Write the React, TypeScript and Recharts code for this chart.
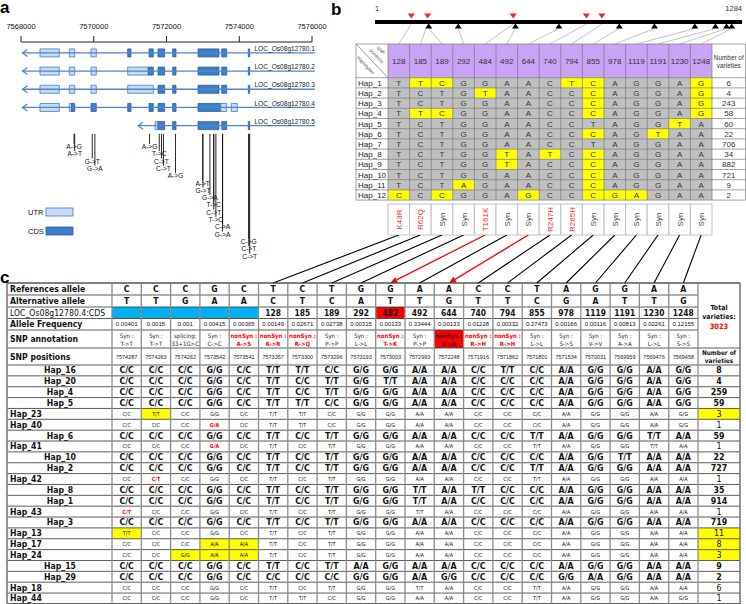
import React from 'react'
import { ComposedChart, XAxis, YAxis, ReferenceArea, ReferenceLine, ReferenceDot, Scatter } from 'recharts'

const SANS = '"Liberation Sans", Arial, Helvetica, sans-serif'
const NARROW = '"Liberation Sans Narrow", "DejaVu Sans Condensed", "Liberation Sans", Arial, sans-serif'
const INK = '#222'
const RED = '#ff0000'
const YELLOW = '#ffff00'

// ---------- panel a: gene models ----------
const GENE_TICKS = [7568000, 7570000, 7572000, 7574000, 7576000]
const TRANSCRIPTS = ['LOC_Os08g12780.1', 'LOC_Os08g12780.2', 'LOC_Os08g12780.3', 'LOC_Os08g12780.4', 'LOC_Os08g12780.5']
const TX_START = [7568040, 7568040, 7568040, 7568040, 7571220]
const TX_END = 7576080
// [transcript, start, end, kind]
const EXONS: [number, number, number, string][] = [
  [1, 7568522, 7569053, 'UTR'], [1, 7569328, 7569477, 'UTR'], [1, 7569924, 7570070, 'UTR'], [1, 7570933, 7571024, 'CDS'],
  [1, 7571519, 7571637, 'CDS'], [1, 7571766, 7571950, 'CDS'], [1, 7572170, 7572261, 'CDS'], [1, 7572866, 7573443, 'CDS'],
  [1, 7573518, 7573655, 'CDS'], [1, 7574249, 7574287, 'CDS'],
  [2, 7568522, 7569053, 'UTR'], [2, 7569328, 7569477, 'UTR'], [2, 7569924, 7570070, 'UTR'], [2, 7570933, 7571500, 'UTR'],
  [2, 7571500, 7571637, 'CDS'], [2, 7571766, 7571950, 'CDS'], [2, 7572170, 7572261, 'CDS'], [2, 7572866, 7573443, 'CDS'],
  [2, 7573518, 7573655, 'CDS'], [2, 7574249, 7574287, 'CDS'],
  [3, 7568522, 7569053, 'UTR'], [3, 7569328, 7569477, 'UTR'], [3, 7569924, 7570070, 'UTR'], [3, 7570933, 7571637, 'UTR'],
  [3, 7571766, 7571950, 'CDS'], [3, 7572170, 7572261, 'CDS'], [3, 7572866, 7573443, 'CDS'], [3, 7573518, 7573655, 'CDS'],
  [3, 7574249, 7574287, 'CDS'],
  [4, 7568522, 7569053, 'UTR'], [4, 7569328, 7569390, 'UTR'], [4, 7569390, 7569477, 'CDS'], [4, 7569924, 7570070, 'CDS'],
  [4, 7570933, 7571024, 'CDS'], [4, 7571519, 7571637, 'CDS'], [4, 7571766, 7571950, 'CDS'], [4, 7572170, 7572261, 'CDS'],
  [4, 7572866, 7573491, 'CDS'], [4, 7573491, 7573655, 'UTR'], [4, 7573782, 7573947, 'UTR'],
  [5, 7571684, 7571766, 'UTR'], [5, 7571766, 7571950, 'CDS'], [5, 7572170, 7572261, 'CDS'], [5, 7572866, 7573443, 'CDS'],
  [5, 7573518, 7573655, 'CDS'], [5, 7574249, 7574287, 'CDS'],
]

// ---------- SNPs shared by panels a and c (column order of table c) ----------
const SNP_POS = [7574287, 7574263, 7574262, 7573542, 7573541, 7573357, 7573300, 7573296, 7573193, 7573003,
  7572993, 7572248, 7571916, 7571862, 7571801, 7571534, 7570031, 7569959, 7569476, 7569458]
const REF_ALLELE = ['C', 'C', 'C', 'G', 'C', 'T', 'C', 'T', 'G', 'G', 'A', 'A', 'C', 'C', 'T', 'A', 'G', 'G', 'A', 'A']
const ALT_ALLELE = ['T', 'T', 'G', 'A', 'A', 'C', 'T', 'C', 'A', 'T', 'T', 'G', 'T', 'T', 'C', 'G', 'A', 'T', 'T', 'G']
// stacking order of the labels under the gene model
const SNP_LABEL_LEVEL = [15, 14, 13, 12, 11, 10, 9, 8, 7, 6, 5, 4, 3, 2, 1, 0, 3, 2, 1, 0]

// ---------- panel b: CDS haplotypes ----------
const CDS_LEN = 1284
const B_SNP_POS = [128, 185, 189, 292, 484, 492, 644, 740, 794, 855, 978, 1119, 1191, 1230, 1248]
const B_EFFECT = ['K43R', 'R62Q', 'Syn', 'Syn', 'T161K', 'Syn', 'Syn', 'R247H', 'R265H', 'Syn', 'Syn', 'Syn', 'Syn', 'Syn', 'Syn']
const B_HAPS = ['Hap_1', 'Hap_2', 'Hap_3', 'Hap_4', 'Hap_5', 'Hap_6', 'Hap_7', 'Hap_8', 'Hap_9', 'Hap_10', 'Hap_11', 'Hap_12']
const B_ALLELES = ['TTCGGAACTCAGGAG', 'TCTGTAACCCAGGAG', 'TCTGGAACCCAGGAG', 'TTCGGAACCCAGGAG', 'TCTGGAACCTAGGTA', 'TCTGGAACCCAGTAA',
  'TCTGGAACCTAGGAA', 'TCTGGTATCCAGGAA', 'TCTGGTACCCAGGAA', 'TCTGGAACCCAGGAA', 'TCTAGAACCCAGGAA', 'CCCGGAGCCCGAGAA']
const B_COUNTS = [6, 4, 243, 58, 60, 22, 706, 34, 882, 721, 9, 2]

// ---------- panel c: full haplotype table ----------
const C_CDS_POS = [null, null, null, null, null, 128, 185, 189, 292, 482, 492, 644, 740, 794, 855, 978, 1119, 1191, 1230, 1248]
const C_FREQ = [0.00401, 0.0015, 0.001, 0.00415, 0.00365, 0.00149, 0.02671, 0.02738, 0.00315, 0.00133, 0.33444, 0.00133,
  0.01228, 0.00332, 0.27473, 0.00166, 0.00116, 0.00813, 0.02261, 0.12155]
const C_ANNOT_TYPE = ['Syn :', 'Syn :', 'splicing:', 'Syn :', 'nonSyn :', 'nonSyn :', 'nonSyn :', 'Syn :', 'Syn :', 'nonSyn :',
  'Syn :', 'nonSyn :', 'nonSyn :', 'nonSyn :', 'Syn :', 'Syn :', 'Syn :', 'Syn :', 'Syn :', 'Syn :']
const C_ANNOT_CHANGE = ['T->T', 'T->T', '33+1G>C', 'C->C', 'A->S', 'K->R', 'R->Q', 'P->P', 'L->L', 'T->K', 'P->P', 'V->A',
  'R->H', 'R->H', 'L->L', 'S->S', 'V->V', 'A->A', 'L->L', 'S->S']
const C_TOTAL = 3023
const C_HAPS = ['Hap_16', 'Hap_20', 'Hap_4', 'Hap_5', 'Hap_23', 'Hap_40', 'Hap_6', 'Hap_41', 'Hap_10', 'Hap_2', 'Hap_42',
  'Hap_8', 'Hap_1', 'Hap_43', 'Hap_3', 'Hap_13', 'Hap_17', 'Hap_24', 'Hap_15', 'Hap_29', 'Hap_18', 'Hap_44']
const C_MAJOR = [1, 1, 1, 1, 0, 0, 1, 0, 1, 1, 0, 1, 1, 0, 1, 0, 0, 0, 1, 1, 0, 0]
const C_GENO = [
  'CC CC CC GG CC TT TT CC GG GG AA AA CC TT CC AA GG GG AA GG',
  'CC CC CC GG CC TT CC TT GG TT AA AA CC CC CC AA GG GG AA GG',
  'CC CC CC GG CC TT CC TT GG GG AA AA CC CC CC AA GG GG AA GG',
  'CC CC CC GG CC TT TT CC GG GG AA AA CC CC CC AA GG GG AA GG',
  'CC TT CC GG CC TT TT CC GG GG AA AA CC CC CC AA GG GG AA GG',
  'CC CC CC GA CC TT TT CC GG GG AA AA CC CC CC AA GG GG AA GG',
  'CC CC CC GG CC TT CC TT GG GG AA AA CC CC TT AA GG GG TT AA',
  'CC CC CC GA CC TT CC TT GG GG AA AA CC CC TT AA GG GG TT AA',
  'CC CC CC GG CC TT CC TT GG GG AA AA CC CC CC AA GG TT AA AA',
  'CC CC CC GG CC TT CC TT GG GG AA AA CC CC TT AA GG GG AA AA',
  'CC CT CC GG CC TT CC TT GG GG AA AA CC CC TT AA GG GG AA AA',
  'CC CC CC GG CC TT CC TT GG GG TT AA TT CC CC AA GG GG AA AA',
  'CC CC CC GG CC TT CC TT GG GG TT AA CC CC CC AA GG GG AA AA',
  'CT CC CC GG CC TT CC TT GG GG TT AA CC CC CC AA GG GG AA AA',
  'CC CC CC GG CC TT CC TT GG GG AA AA CC CC CC AA GG GG AA AA',
  'TT CC CC GG CC TT CC TT GG GG AA AA CC CC CC AA GG GG AA AA',
  'CC CC CC AA AA TT CC TT GG GG AA AA CC CC CC AA GG GG AA AA',
  'CC CC GG AA AA TT CC TT GG GG AA AA CC CC CC AA GG GG AA AA',
  'CC CC CC GG CC TT CC TT AA GG AA AA CC CC CC AA GG GG AA AA',
  'CC CC CC GG CC CC CC CC GG GG AA GG CC CC CC GG AA GG AA AA',
  'CC CC CC GG CC TT CC TT GG GG TT AA CC CC TT AA GG GG AA AA',
  'CC CC CC GG CC TT TT CC GG GG AA AA CC CC TT AA GG GG AA GG',
]
const C_COUNTS = [8, 4, 259, 59, 3, 1, 59, 1, 22, 727, 1, 35, 914, 1, 719, 11, 8, 3, 9, 2, 6, 1]
// links from table b to table c that are drawn as red arrows
const LINK_HIGHLIGHT = [4, 6]

const UTR_FILL = '#c7dcf4'
const UTR_STROKE = '#3f7cc4'
const CDS_FILL = '#3d7ecb'
const CDS_STROKE = '#2a5fa6'
const TX_LINE = '#4f86c6'

function TextMark(props: any) {
  const { cx, cy, payload: t } = props
  if (cx == null || cy == null || !t) return null
  const lines: string[] = Array.isArray(t.text) ? t.text : [t.text]
  const lh = t.lh ?? t.size * 1.15
  const y0 = cy - ((lines.length - 1) * lh) / 2
  return (
    <text
      x={cx}
      y={y0}
      fontSize={t.size}
      fontWeight={t.bold ? 700 : 400}
      fill={t.color ?? INK}
      fontFamily={t.font ?? SANS}
      textAnchor={t.anchor ?? 'middle'}
      dominantBaseline="central"
      transform={t.rotate ? `rotate(${t.rotate} ${cx} ${cy})` : undefined}
    >
      {lines.map((l, i) => (
        <tspan key={i} x={cx} y={y0 + i * lh} dominantBaseline="central">
          {l}
        </tspan>
      ))}
    </text>
  )
}

function Triangle(props: any) {
  const { cx, cy, payload } = props
  if (cx == null) return null
  const down = payload.kind === 'non'
  const pts = down
    ? `${cx - 3.5},${cy - 2.5} ${cx + 3.5},${cy - 2.5} ${cx},${cy + 2.5}`
    : `${cx - 3.5},${cy + 2.5} ${cx + 3.5},${cy + 2.5} ${cx},${cy - 2.5}`
  return <polygon points={pts} fill={down ? '#ff1f1f' : '#000'} />
}

function ArrowLine(props: any) {
  const { x1, y1, x2, y2 } = props
  const a = Math.atan2(y2 - y1, x2 - x1)
  const L = 7
  const W = 3
  const bx = x2 - L * Math.cos(a)
  const by = y2 - L * Math.sin(a)
  const p1 = `${bx + W * Math.sin(a)},${by - W * Math.cos(a)}`
  const p2 = `${bx - W * Math.sin(a)},${by + W * Math.cos(a)}`
  return (
    <g>
      <line x1={x1} y1={y1} x2={bx} y2={by} stroke={RED} strokeWidth={1.3} />
      <polygon points={`${x2},${y2} ${p1} ${p2}`} fill={RED} />
    </g>
  )
}

// ---------- panel a ----------
const levelY = (k: number) => 6.12 + 0.4015 * k

function GenePanel() {
  const snpLabels = SNP_POS.map((p, i) => ({
    x: p,
    y: levelY(SNP_LABEL_LEVEL[i]),
    text: `${REF_ALLELE[i]}->${ALT_ALLELE[i]}`,
    size: 6.6,
    color: '#111',
  }))
  return (
    <ComposedChart width={330} height={262} margin={{ top: 0, right: 18, bottom: 0, left: 21 }}>
      <XAxis
        type="number"
        dataKey="x"
        orientation="top"
        domain={[7568000, 7576000]}
        ticks={GENE_TICKS}
        interval={0}
        allowDataOverflow
        height={42}
        tickSize={6}
        tickMargin={7}
        stroke="#222"
        tick={{ fontSize: 7.5, fill: '#111', fontFamily: SANS }}
      />
      <YAxis type="number" dataKey="y" domain={[0.4, 12.5]} reversed hide allowDataOverflow />
      {TRANSCRIPTS.map((name, i) => (
        <ReferenceLine
          key={'tx' + i}
          segment={[{ x: TX_START[i], y: i + 1 }, { x: TX_END, y: i + 1 }]}
          stroke={TX_LINE}
          strokeWidth={1.3}
          ifOverflow="visible"
        />
      ))}
      {TRANSCRIPTS.map((name, i) => (
        <ReferenceDot
          key={'ch' + i}
          x={TX_START[i]}
          y={i + 1}
          ifOverflow="visible"
          shape={(p: any) => (
            <polyline
              points={`${p.cx + 5},${p.cy - 3.5} ${p.cx},${p.cy} ${p.cx + 5},${p.cy + 3.5}`}
              fill="none"
              stroke={TX_LINE}
              strokeWidth={1.2}
            />
          )}
        />
      ))}
      {TRANSCRIPTS.map((name, i) => (
        <ReferenceDot
          key={'nm' + i}
          x={TX_END}
          y={i + 1}
          ifOverflow="visible"
          shape={(p: any) => (
            <text x={p.cx} y={p.cy - 1.8} textAnchor="end" fontSize={6.6} fill="#222" fontFamily={SANS}>
              {name}
            </text>
          )}
        />
      ))}
      {EXONS.map(([t, s, e, kind], i) => (
        <ReferenceArea
          key={'ex' + i}
          x1={s}
          x2={e}
          y1={t - 0.22}
          y2={t + 0.22}
          fill={kind === 'CDS' ? CDS_FILL : UTR_FILL}
          fillOpacity={1}
          stroke={kind === 'CDS' ? CDS_STROKE : UTR_STROKE}
          strokeWidth={0.8}
          ifOverflow="visible"
        />
      ))}
      {SNP_POS.map((p, i) => (
        <ReferenceLine
          key={'snp' + i}
          segment={[{ x: p, y: 5.45 }, { x: p, y: levelY(SNP_LABEL_LEVEL[i]) - 0.12 }]}
          stroke="#111"
          strokeWidth={0.9}
          ifOverflow="visible"
        />
      ))}
      <Scatter data={snpLabels} shape={(p: any) => <TextMark {...p} />} isAnimationActive={false} />
    </ComposedChart>
  )
}

// ---------- panel b ----------
const B = { left: 349, width: 397, height: 240, col0: 388, colW: 21.6, row0: 77.7, rowH: 10.2, bar0: 375, bar1: 742 }
const bx = (px: number) => (px - B.col0) / B.colW - 0.5
const by = (px: number) => (px - B.row0) / B.rowH + 0.5
const cdsToCol = (p: number) => bx(B.bar0 + ((p - 1) / (CDS_LEN - 1)) * (B.bar1 - B.bar0))

function HaplotypePanel() {
  const ref = REF_ALLELE.slice(5)
  const headTop = by(44)
  const last = B_HAPS.length + 0.5
  const xL = bx(356)
  const xR = bx(745.5)
  const cntX = (14.5 + xR) / 2
  const annTop = by(204)
  const annBot = by(235)
  const barY = by(22)
  const redY = by(16)
  const blkY = by(26)

  const texts: any[] = []
  B_SNP_POS.forEach((p, j) => {
    texts.push({ x: j, y: by(61), text: String(p), size: 8, color: '#333' })
    texts.push({
      x: j,
      y: (annTop + annBot) / 2,
      text: B_EFFECT[j],
      size: 8,
      rotate: -90,
      color: B_EFFECT[j] === 'Syn' ? '#444' : '#e8302c',
    })
  })
  texts.push({ x: cntX, y: by(61), text: ['Number of', 'varieties'], size: 6.4, lh: 7.6, color: '#333' })
  texts.push({ x: bx(381), y: by(50), text: 'SNP', size: 4.6, rotate: 46, color: '#444' })
  texts.push({ x: bx(377), y: by(56), text: 'positions', size: 4.6, rotate: 46, color: '#444' })
  texts.push({ x: bx(366), y: by(65), text: 'Haplotypes', size: 4.6, rotate: 46, color: '#444' })
  B_HAPS.forEach((h, i) => {
    texts.push({ x: bx(358), y: i + 1, text: h, size: 8, anchor: 'start', color: '#222' })
    B_ALLELES[i].split('').forEach((a, j) => texts.push({ x: j, y: i + 1, text: a, size: 8, color: '#333' }))
    texts.push({ x: cntX, y: i + 1, text: String(B_COUNTS[i]), size: 8, color: '#333' })
  })

  const yellow: [number, number][] = []
  B_ALLELES.forEach((s, i) => s.split('').forEach((a, j) => a !== ref[j] && yellow.push([i, j])))

  const marks = B_SNP_POS.map((p, j) => ({ x: p, y: B_EFFECT[j] === 'Syn' ? blkY : redY, kind: B_EFFECT[j] === 'Syn' ? 'syn' : 'non' }))
  const endLabels = [
    { x: 1, y: by(8), text: '1', size: 7.5, anchor: 'start', color: '#333' },
    { x: CDS_LEN, y: by(8), text: String(CDS_LEN), size: 7.5, anchor: 'end', color: '#333' },
  ]
  const hLines = [headTop, ...B_HAPS.map((_, i) => i + 0.5), last]
  const vLines = [xL, ...B_SNP_POS.map((_, j) => j - 0.5), 14.5, xR]

  return (
    <ComposedChart width={B.width} height={B.height} margin={{ top: 0, right: 0, bottom: 0, left: 0 }}>
      <XAxis type="number" dataKey="x" domain={[bx(B.left), bx(B.left + B.width)]} hide allowDataOverflow />
      <XAxis
        xAxisId="cds"
        type="number"
        dataKey="x"
        domain={[1, CDS_LEN]}
        padding={{ left: B.bar0 - B.left, right: B.left + B.width - B.bar1 }}
        hide
        allowDataOverflow
      />
      <YAxis type="number" dataKey="y" domain={[by(0), by(B.height)]} reversed hide allowDataOverflow />

      {/* SNP map along the CDS */}
      <ReferenceArea xAxisId="cds" x1={1} x2={CDS_LEN} y1={barY - 0.2} y2={barY + 0.2} fill="#000" fillOpacity={1} ifOverflow="visible" />
      {B_SNP_POS.map((p, j) => (
        <ReferenceLine
          key={'lk' + j}
          segment={[{ x: cdsToCol(p), y: B_EFFECT[j] === 'Syn' ? blkY + 0.25 : barY + 0.2 }, { x: j, y: headTop }]}
          stroke="#9a9a9a"
          strokeWidth={0.6}
          ifOverflow="visible"
        />
      ))}
      <Scatter xAxisId="cds" data={marks} shape={(p: any) => <Triangle {...p} />} isAnimationActive={false} />
      <Scatter xAxisId="cds" data={endLabels} shape={(p: any) => <TextMark {...p} />} isAnimationActive={false} />

      {/* table */}
      <ReferenceArea x1={xL} x2={xR} y1={headTop} y2={last} fill="#fff" fillOpacity={1} ifOverflow="visible" />
      <ReferenceArea x1={-0.5} x2={14.5} y1={headTop} y2={0.5} fill="#c9a3f5" fillOpacity={1} ifOverflow="visible" />
      <ReferenceArea x1={-0.5} x2={14.5} y1={0.5} y2={last} fill="#c0c0c0" fillOpacity={1} ifOverflow="visible" />
      {yellow.map(([i, j]) => (
        <ReferenceArea key={`y${i}-${j}`} x1={j - 0.5} x2={j + 0.5} y1={i + 0.5} y2={i + 1.5} fill={YELLOW} fillOpacity={1} ifOverflow="visible" />
      ))}
      {hLines.map((v, i) => (
        <ReferenceLine key={'h' + i} segment={[{ x: xL, y: v }, { x: xR, y: v }]} stroke="#7a7a7a" strokeWidth={0.7} ifOverflow="visible" />
      ))}
      {vLines.map((v, i) => (
        <ReferenceLine key={'v' + i} segment={[{ x: v, y: headTop }, { x: v, y: last }]} stroke="#7a7a7a" strokeWidth={0.7} ifOverflow="visible" />
      ))}
      <ReferenceLine segment={[{ x: xL, y: headTop }, { x: -0.5, y: 0.5 }]} stroke="#555" strokeWidth={0.6} ifOverflow="visible" />

      {/* effect boxes */}
      {B_SNP_POS.map((p, j) => (
        <ReferenceArea key={'an' + j} x1={j - 0.5} x2={j + 0.5} y1={annTop} y2={annBot} fill="#fff" fillOpacity={1} stroke="#b4b4b4" strokeWidth={0.8} ifOverflow="visible" />
      ))}
      <Scatter data={texts} shape={(p: any) => <TextMark {...p} />} isAnimationActive={false} />
    </ComposedChart>
  )
}

// ---------- panel c ----------
const C = { top: 235, width: 746, height: 370, col0: 112, colW: 29.3, row0: 365, rowH: 10.86 }
const ccx = (px: number) => (px - C.col0) / C.colW - 0.5
const ccy = (px: number) => (px - C.row0) / C.rowH
const C_HEAD_EDGES = [283, 295, 307, 318.5, 330, 348, 365].map(ccy)
const C_HEAD_LABELS = ['References allele', 'Alternative allele', 'LOC_Os08g12780.4:CDS', 'Allele Frequency', 'SNP annotation', 'SNP positions']

function FullTablePanel() {
  const E = C_HEAD_EDGES
  const mid = (r: number) => (E[r] + E[r + 1]) / 2
  const xL = ccx(7)
  const xR = ccx(740)
  const cntX = (19.5 + xR) / 2
  const nRows = C_HAPS.length
  const texts: any[] = []

  C_HEAD_LABELS.forEach((l, r) =>
    texts.push({ x: ccx(10), y: mid(r), text: l, size: 8.6, bold: r !== 2, anchor: 'start', font: NARROW, color: '#111' })
  )
  SNP_POS.forEach((p, j) => {
    texts.push({ x: j, y: mid(0), text: REF_ALLELE[j], size: 8.6, bold: true, font: NARROW, color: '#111' })
    texts.push({ x: j, y: mid(1), text: ALT_ALLELE[j], size: 8.6, bold: true, font: NARROW, color: '#111' })
    if (C_CDS_POS[j] != null) texts.push({ x: j, y: mid(2), text: String(C_CDS_POS[j]), size: 8.4, bold: true, font: NARROW, color: '#111' })
    texts.push({ x: j, y: mid(3), text: String(C_FREQ[j]), size: 6, color: '#111' })
    const non = C_ANNOT_TYPE[j].startsWith('nonSyn')
    const onRed = j === 11
    texts.push({
      x: j,
      y: mid(4),
      text: [C_ANNOT_TYPE[j], C_ANNOT_CHANGE[j]],
      size: 6,
      lh: 7.8,
      bold: non,
      font: NARROW,
      color: onRed ? '#400' : non ? RED : '#222',
    })
    texts.push({ x: j, y: mid(5), text: String(p), size: 5.5, color: '#222' })
  })
  texts.push({ x: cntX, y: ccy(312), text: ['Total', 'varieties:'], size: 7, lh: 9, bold: true, font: NARROW, color: '#111' })
  texts.push({ x: cntX, y: ccy(326), text: String(C_TOTAL), size: 7.4, bold: true, font: NARROW, color: RED })
  texts.push({ x: cntX, y: mid(5), text: ['Number of', 'varieties'], size: 6.4, lh: 8, bold: true, font: NARROW, color: '#111' })

  const yellowCells: [number, number][] = []
  const yellowCounts: number[] = []
  C_HAPS.forEach((h, k) => {
    const major = C_MAJOR[k] === 1
    texts.push({
      x: major ? ccx(60) : ccx(10),
      y: k + 0.5,
      text: h,
      size: 8.6,
      bold: true,
      anchor: major ? 'middle' : 'start',
      font: NARROW,
      color: '#111',
    })
    C_GENO[k].split(' ').forEach((g, j) => {
      const het = g[0] !== g[1]
      if (!major && !het && j < 5 && g[0] === ALT_ALLELE[j]) yellowCells.push([k, j])
      texts.push({
        x: j,
        y: k + 0.5,
        text: `${g[0]}/${g[1]}`,
        size: major ? 8.8 : 5.4,
        bold: major || het,
        font: NARROW,
        color: het ? RED : '#111',
      })
    })
    if (yellowCells.some(([r]) => r === k)) yellowCounts.push(k)
    texts.push({ x: cntX, y: k + 0.5, text: String(C_COUNTS[k]), size: 8.8, bold: major, font: NARROW, color: '#111' })
  })

  const redCells: [number, number][] = [[9, 2], [11, 4]]
  const links = B_SNP_POS.map((_, j) => ({ from: ccx(B.col0 + B.colW * (j + 0.5)), to: j + 5, red: LINK_HIGHLIGHT.includes(j) }))

  return (
    <ComposedChart width={C.width} height={C.height} margin={{ top: 0, right: 0, bottom: 0, left: 0 }}>
      <XAxis type="number" dataKey="x" domain={[ccx(0), ccx(C.width)]} hide allowDataOverflow />
      <YAxis type="number" dataKey="y" domain={[ccy(C.top), ccy(C.top + C.height)]} reversed hide allowDataOverflow />

      {links.map((l, j) =>
        l.red ? (
          <ReferenceLine key={'l' + j} segment={[{ x: l.from, y: ccy(C.top) }, { x: l.to, y: E[0] }]} shape={(p: any) => <ArrowLine {...p} />} ifOverflow="visible" />
        ) : (
          <ReferenceLine key={'l' + j} segment={[{ x: l.from, y: ccy(C.top) }, { x: l.to, y: E[0] }]} stroke="#000" strokeWidth={1.1} ifOverflow="visible" />
        )
      )}

      <ReferenceArea x1={xL} x2={xR} y1={E[0]} y2={nRows} fill="#fff" fillOpacity={1} ifOverflow="visible" />
      <ReferenceArea x1={-0.5} x2={4.5} y1={E[2]} y2={E[3]} fill="#00b0f0" fillOpacity={1} ifOverflow="visible" />
      {redCells.map(([j, r]) => (
        <ReferenceArea key={`r${j}`} x1={j - 0.5} x2={j + 0.5} y1={E[r]} y2={E[r + 1]} fill={RED} fillOpacity={1} ifOverflow="visible" />
      ))}
      {yellowCells.map(([k, j]) => (
        <ReferenceArea key={`y${k}-${j}`} x1={j - 0.5} x2={j + 0.5} y1={k} y2={k + 1} fill={YELLOW} fillOpacity={1} ifOverflow="visible" />
      ))}
      {yellowCounts.map((k) => (
        <ReferenceArea key={`yc${k}`} x1={19.5} x2={xR} y1={k} y2={k + 1} fill={YELLOW} fillOpacity={1} ifOverflow="visible" />
      ))}

      {/* grid */}
      {[E[1], E[2], E[3], E[4]].map((v, i) => (
        <ReferenceLine key={'hh' + i} segment={[{ x: xL, y: v }, { x: 19.5, y: v }]} stroke="#333" strokeWidth={0.8} ifOverflow="visible" />
      ))}
      {[E[0], E[5], ...C_HAPS.map((_, k) => k), nRows].map((v, i) => (
        <ReferenceLine key={'hf' + i} segment={[{ x: xL, y: v }, { x: xR, y: v }]} stroke="#333" strokeWidth={0.8} ifOverflow="visible" />
      ))}
      {[xL, ...SNP_POS.map((_, j) => j - 0.5), 19.5, xR].map((v, i) => (
        <ReferenceLine key={'vv' + i} segment={[{ x: v, y: E[0] }, { x: v, y: nRows }]} stroke="#8c8c8c" strokeWidth={1.3} ifOverflow="visible" />
      ))}
      <ReferenceArea x1={xL} x2={xR} y1={E[0]} y2={nRows} fill="none" stroke="#666" strokeWidth={1.2} ifOverflow="visible" />

      <Scatter data={texts} shape={(p: any) => <TextMark {...p} />} isAnimationActive={false} />
    </ComposedChart>
  )
}

export default function App() {
  return (
    <div style={{ position: 'absolute', left: 0, top: 0, width: 746, height: 604, background: '#fff', overflow: 'hidden', fontFamily: SANS }}>
      <div style={{ position: 'absolute', left: 0, top: 0 }}>
        <GenePanel />
      </div>
      <div style={{ position: 'absolute', left: B.left, top: 0 }}>
        <HaplotypePanel />
      </div>
      <div style={{ position: 'absolute', left: 0, top: C.top }}>
        <FullTablePanel />
      </div>
      <svg width={746} height={604} style={{ position: 'absolute', left: 0, top: 0, pointerEvents: 'none' }}>
        <text x={0} y={13} fontSize={17} fontWeight={700} fontFamily={SANS} fill="#000">a</text>
        <text x={331} y={15} fontSize={17} fontWeight={700} fontFamily={SANS} fill="#000">b</text>
        <text x={0} y={283} fontSize={17} fontWeight={700} fontFamily={SANS} fill="#000">c</text>
        {/* legend of panel a */}
        <text x={28} y={212} fontSize={7.5} fontFamily={SANS} fill="#111" dominantBaseline="central">UTR</text>
        <rect x={46} y={208} width={27} height={8} fill={UTR_FILL} stroke={UTR_STROKE} strokeWidth={0.8} />
        <text x={28} y={231} fontSize={7.5} fontFamily={SANS} fill="#111" dominantBaseline="central">CDS</text>
        <rect x={46} y={227} width={27} height={8} fill={CDS_FILL} stroke={CDS_STROKE} strokeWidth={0.8} />
      </svg>
    </div>
  )
}
